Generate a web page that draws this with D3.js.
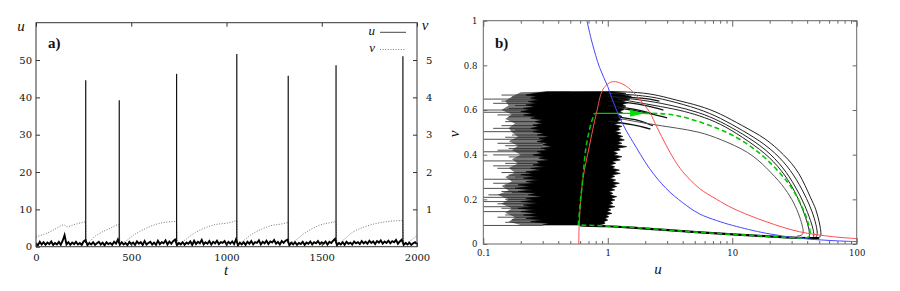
<!DOCTYPE html>
<html>
<head>
<meta charset="utf-8">
<script src="https://cdn.jsdelivr.net/npm/d3@7.9.0/dist/d3.min.js"></script>
<style>
  html, body { margin: 0; padding: 0; background: #fff; }
  svg { display: block; }
</style>
</head>
<body>
<svg id="chart" width="900" height="291"></svg>
<script>
// ---- panel a data ----
const tTicksA = [0, 500, 1000, 1500, 2000];
const uTicksA = [0, 10, 20, 30, 40, 50];
const vTicksA = [1, 2, 3, 4, 5];

// spikes of u (time, peak)
const spikeT = [261, 437, 738, 1054, 1324, 1575, 1926];
const spikeU = [44.6, 39.2, 46.3, 51.6, 45.8, 48.6, 51.0];

// noisy baseline of u, one value every 10 time units (t = 0 .. 2000)
const uNoiseStep = 10;
const uNoise = [
  0.9,0.4,1.3,0.6,1.2,0.5,1.1,0.7,1.4,0.5,
  1.0,0.6,1.3,0.5,1.6,3.1,0.6,1.2,0.5,1.1,
  0.7,1.3,0.6,1.0,0.5,1.4,1.8,0.4,1.0,0.6,
  1.2,0.5,0.9,1.3,0.6,1.1,0.4,1.2,0.7,1.0,
  0.5,1.3,0.8,1.9,0.5,1.2,0.6,1.0,0.4,1.3,
  0.7,1.1,0.5,1.4,0.8,1.2,0.5,1.5,0.6,1.0,
  1.3,0.6,1.1,0.5,1.6,0.7,1.2,0.9,1.7,0.6,
  1.4,0.8,1.5,1.9,0.4,1.0,0.6,1.2,0.5,1.1,
  0.8,1.4,0.5,1.6,0.7,1.3,0.9,1.8,0.6,1.2,
  0.8,1.5,0.6,1.3,0.9,1.6,0.7,1.2,1.0,1.5,
  0.6,1.3,0.8,1.4,0.7,2.0,0.4,1.1,0.6,1.2,
  0.5,1.3,0.8,1.5,0.6,1.2,1.0,1.7,0.6,1.3,
  0.9,1.6,0.7,1.4,1.1,1.8,0.8,1.3,0.6,1.5,
  1.0,1.6,1.9,0.4,1.1,0.6,1.2,0.5,1.0,0.7,
  1.3,0.5,1.1,0.8,1.4,0.6,1.2,0.9,1.5,0.7,
  1.2,0.8,1.4,0.6,1.3,1.0,1.6,2.1,0.4,1.0,
  0.6,1.2,0.5,1.3,0.8,1.1,0.6,1.4,0.9,1.2,
  0.7,1.5,0.9,1.3,0.8,1.6,1.0,1.4,0.7,1.5,
  1.1,1.7,0.8,1.4,1.0,1.6,0.9,1.5,1.2,1.8,
  0.8,1.4,1.9,0.5,1.0,0.6,1.1,0.5,0.9,1.2,
  0.7
];

// slow variable v (right axis)
const vT = [0,40,73,110,143,152,162,200,248,259, 264,318,388,436, 441,528,598,668,737,
            742,843,931,1018,1053, 1058,1141,1228,1316,1323, 1328,1421,1491,1570,1574,
            1580,1666,1753,1841,1925, 1930,2000];
const vV = [0.26,0.33,0.40,0.50,0.58,0.575,0.53,0.59,0.655,0.665, 0.10,0.31,0.49,0.59,
            0.10,0.36,0.54,0.645,0.675, 0.10,0.40,0.58,0.645,0.69, 0.10,0.36,0.556,0.645,0.66,
            0.10,0.40,0.58,0.67,0.675, 0.10,0.40,0.58,0.67,0.70, 0.10,0.30];

// ---- panel b data ----
const uTicksB = [0.1, 1, 10, 100];
const uMinorB = [0.2,0.3,0.4,0.5,0.6,0.7,0.8,0.9, 2,3,4,5,6,7,8,9, 20,30,40,50,60,70,80,90];
const vTicksB = [0, 0.2, 0.4, 0.6, 0.8, 1];

// nullclines [u, v]
const blueCurve = [[0.68,1.0],[0.75,0.9],[0.86,0.79],[1.0,0.705],[1.1,0.64],[1.24,0.57],[1.4,0.51],
  [1.59,0.458],[2.16,0.339],[2.94,0.249],[4.0,0.185],[5.45,0.135],[7.5,0.105],[10.1,0.083],
  [18.7,0.048],[34.6,0.026],[60,0.016],[100,0.0105]];
const redCurve = [[0.585,0.0],[0.59,0.09],[0.63,0.287],[0.71,0.436],[0.81,0.585],[0.91,0.69],
  [1.03,0.722],[1.15,0.727],[1.35,0.713],[1.59,0.682],[1.85,0.64],[2.16,0.592],[2.5,0.52],
  [2.94,0.443],[3.4,0.38],[4.0,0.324],[5.45,0.249],[7.5,0.2],[10.1,0.16],[18.7,0.1],
  [34.6,0.055],[64,0.033],[100,0.024]];

// singular orbit (green)
const greenUp = [[0.58,0.085],[0.6,0.18],[0.63,0.29],[0.67,0.436],[0.735,0.54],[0.78,0.585]];
const greenJump = [[0.78,0.585],[1.97,0.585]];
const greenDown = [[1.97,0.585],[2.94,0.585],[4.0,0.57],[5.45,0.548],[7.5,0.52],[10.1,0.488],
  [14,0.44],[18.7,0.384],[25,0.31],[30.6,0.249],[35.5,0.18],[39,0.13],[41.5,0.08],[42.6,0.045],
  [42,0.027],[34.6,0.026],[20,0.034],[10.1,0.043],[5,0.053],[2.94,0.063],[1.24,0.08],[0.58,0.085]];
const arrowBase = 1.51, arrowTip = 1.97, arrowV = 0.585;

// noisy trajectory: dense core outline [v, u]
const coreLeft = [[0.085,0.30],[0.092,0.34],[0.1,0.24],[0.107,0.3],[0.115,0.22],[0.122,0.28],
  [0.13,0.21],[0.137,0.27],[0.145,0.2],[0.152,0.26],[0.16,0.19],[0.167,0.25],[0.175,0.21],
  [0.182,0.28],[0.19,0.2],[0.197,0.26],[0.205,0.22],[0.212,0.3],[0.22,0.23],[0.227,0.27],
  [0.235,0.19],[0.242,0.25],[0.25,0.18],[0.257,0.24],[0.265,0.19],[0.272,0.26],[0.28,0.22],
  [0.287,0.28],[0.295,0.21],[0.302,0.26],[0.31,0.2],[0.316,0.25],[0.324,0.22],[0.331,0.29],
  [0.339,0.24],[0.346,0.31],[0.354,0.25],[0.361,0.29],[0.369,0.27],[0.376,0.34],[0.384,0.28],
  [0.391,0.31],[0.399,0.25],[0.406,0.3],[0.414,0.27],[0.421,0.33],[0.429,0.29],[0.436,0.36],
  [0.444,0.3],[0.451,0.33],[0.459,0.27],[0.466,0.31],[0.474,0.28],[0.481,0.34],[0.488,0.27],
  [0.495,0.31],[0.503,0.25],[0.51,0.29],[0.518,0.24],[0.525,0.28],[0.533,0.25],[0.54,0.3],
  [0.548,0.26],[0.555,0.3],[0.563,0.24],[0.57,0.27],[0.578,0.21],[0.585,0.25],[0.593,0.2],
  [0.6,0.24],[0.608,0.21],[0.615,0.26],[0.623,0.22],[0.63,0.27],[0.638,0.23],[0.645,0.28],
  [0.653,0.24],[0.66,0.27],[0.667,0.22],[0.675,0.26],[0.682,0.32]];
const coreRight = [[0.683,1.05],[0.675,1.4],[0.67,1.3],[0.662,1.55],[0.655,1.4],[0.647,1.5],[0.64,1.3],
  [0.632,1.45],[0.625,1.3],[0.617,1.4],[0.61,1.22],[0.602,1.35],[0.595,1.25],[0.587,1.32],
  [0.58,1.18],[0.572,1.3],[0.565,1.22],[0.557,1.3],[0.55,1.18],[0.542,1.25],[0.535,1.12],
  [0.527,1.3],[0.52,1.2],[0.512,1.26],[0.505,1.14],[0.497,1.28],[0.49,1.18],[0.482,1.32],
  [0.475,1.22],[0.466,1.36],[0.459,1.2],[0.451,1.3],[0.444,1.18],[0.436,1.42],[0.429,1.2],
  [0.421,1.26],[0.414,1.1],[0.406,1.2],[0.399,1.12],[0.391,1.3],[0.384,1.15],[0.376,1.26],
  [0.369,1.08],[0.361,1.16],[0.354,1.04],[0.346,1.14],[0.339,1.08],[0.331,1.24],[0.324,1.12],
  [0.316,1.26],[0.309,1.08],[0.302,1.14],[0.295,1.04],[0.287,1.16],[0.28,1.08],[0.272,1.24],
  [0.265,1.1],[0.257,1.18],[0.25,1.06],[0.242,1.14],[0.235,1.02],[0.227,1.1],[0.22,1.04],
  [0.212,1.18],[0.205,1.06],[0.197,1.14],[0.19,1.04],[0.182,1.1],[0.175,1.02],[0.167,1.14],
  [0.16,1.0],[0.152,1.06],[0.145,0.98],[0.137,1.08],[0.13,0.97],[0.122,1.02],[0.115,0.95],
  [0.107,1.0],[0.1,0.93],[0.092,0.95],[0.085,0.86]];
// grey halo of thinner excursions behind the core [v, u]
const haloLeft = [[0.085,0.2],[0.1,0.16],[0.12,0.18],[0.14,0.15],[0.16,0.17],[0.18,0.14],
  [0.2,0.16],[0.22,0.13],[0.24,0.16],[0.26,0.14],[0.28,0.17],[0.3,0.15],[0.32,0.18],[0.34,0.16],
  [0.36,0.19],[0.38,0.17],[0.4,0.2],[0.42,0.17],[0.44,0.19],[0.46,0.16],[0.48,0.19],[0.5,0.17],
  [0.52,0.16],[0.54,0.18],[0.56,0.15],[0.58,0.17],[0.6,0.14],[0.62,0.16],[0.64,0.15],[0.66,0.17],
  [0.68,0.2],[0.683,0.35]];
// horizontal excursions to the left [v, uLeft]
const whiskers = [[0.649,0.1],[0.6,0.1],[0.59,0.1],[0.503,0.1],[0.469,0.1],[0.413,0.1],[0.372,0.1],
  [0.29,0.1],[0.249,0.1],[0.209,0.1],[0.19,0.1],[0.167,0.1],[0.145,0.1],[0.083,0.1],
  [0.667,0.14],[0.63,0.12],[0.607,0.16],[0.578,0.13],[0.548,0.15],[0.518,0.12],[0.488,0.17],
  [0.451,0.13],[0.428,0.16],[0.399,0.12],[0.361,0.15],[0.339,0.13],[0.309,0.16],[0.272,0.12],
  [0.235,0.14],[0.22,0.11],[0.18,0.13],[0.13,0.15],[0.108,0.17],
  [0.658,0.17],[0.64,0.14],[0.62,0.18],[0.57,0.16],[0.53,0.14],[0.51,0.18],[0.478,0.15],
  [0.44,0.15],[0.42,0.13],[0.39,0.16],[0.35,0.12],[0.32,0.14],[0.3,0.18],[0.26,0.15],[0.23,0.17],
  [0.2,0.15],[0.16,0.14],[0.12,0.13],[0.097,0.15]];
// short streaks leaving the core to the right
const fingers = [
  [[1.0,0.64],[1.8,0.63],[2.8,0.6]],
  [[1.0,0.62],[1.7,0.605],[2.4,0.58]],
  [[1.2,0.61],[2.0,0.59],[3.0,0.565]],
  [[1.1,0.57],[1.7,0.56],[2.3,0.53]],
  [[1.0,0.55],[1.6,0.535],[2.2,0.515]],
  [[1.0,0.66],[2.0,0.655],[2.6,0.64]]
];
// relaxation orbits [u, v]
const orbits = [
  [[1.0,0.683],[1.8,0.68],[2.6,0.665],[3.5,0.645],[5.45,0.62],[8,0.585],[12,0.53],[18.7,0.473],
   [26,0.4],[34.6,0.324],[43,0.2],[47,0.16],[50.5,0.09],[52,0.045],[51,0.03],[47,0.026]],
  [[1.0,0.675],[2.0,0.665],[3.0,0.645],[5.45,0.605],[8,0.565],[12,0.51],[18.7,0.445],[26,0.37],
   [33,0.29],[40,0.2],[45,0.13],[48,0.07],[48.5,0.035],[46,0.028]],
  [[1.1,0.66],[2.2,0.64],[3.3,0.62],[5.45,0.59],[8,0.55],[12,0.495],[18.7,0.425],[26,0.34],
   [32,0.26],[38,0.18],[43,0.1],[45.5,0.05],[45,0.03]],
  [[1.2,0.65],[2.4,0.62],[3.8,0.6],[5.45,0.575],[8,0.54],[12,0.48],[18.7,0.405],[25,0.33],
   [31,0.25],[36,0.17],[40,0.1],[42,0.05],[41.5,0.03]],
  [[1.3,0.56],[1.8,0.545],[2.45,0.533],[3.5,0.52],[5.45,0.503],[8,0.47],[13.7,0.413],[19,0.34],
   [25.5,0.264],[30.5,0.197],[34,0.14],[36.8,0.08],[37.5,0.048],[36,0.038],[33,0.035]]
];
const lowerBranch = [[50,0.026],[34.6,0.027],[20,0.034],[10.1,0.043],[5,0.053],[2.94,0.063],
  [1.5,0.074],[1.0,0.08],[0.6,0.083]];

const SERIF = '"DejaVu Serif", "Liberation Serif", serif';
const TIMES = '"Liberation Serif", "DejaVu Serif", serif';

const svg = d3.select('#chart');

function styleAxis(g, fs, tickColor) {
  g.select('.domain').remove();
  g.attr('font-family', SERIF).style('font-family', SERIF);
  g.selectAll('.tick line').attr('stroke', tickColor);
  g.selectAll('.tick text').attr('font-size', fs).attr('fill', '#111')
    .attr('font-family', SERIF).style('font-family', SERIF);
}

function label(g, x, y, txt, opts = {}) {
  const t = g.append('text')
    .attr('x', x).attr('y', y)
    .attr('text-anchor', opts.anchor || 'middle')
    .attr('font-size', opts.size || 15)
    .attr('font-style', opts.bold ? 'normal' : 'italic')
    .attr('font-weight', opts.bold ? 'bold' : 'normal')
    .attr('font-family', TIMES).style('font-family', TIMES)
    .attr('fill', '#111')
    .text(txt);
  if (opts.rotate) t.attr('transform', `rotate(-90,${x},${y})`);
  return t;
}

// ================= panel a =================
const xA = d3.scaleLinear().domain([0, 2000]).range([36, 417]);
const yA = d3.scaleLinear().domain([0, 60]).range([246.7, 22.7]);
const yA2 = d3.scaleLinear().domain([0, 6]).range([246.7, 22.7]);

svg.append('clipPath').attr('id', 'clipA').append('rect')
  .attr('x', 36).attr('y', 22.7).attr('width', 381).attr('height', 224);

const gA = svg.append('g');

// v dotted
gA.append('path')
  .attr('clip-path', 'url(#clipA)')
  .attr('d', d3.line().x((d, i) => xA(vT[i])).y(d => yA2(d)).curve(d3.curveMonotoneX)(vV))
  .attr('fill', 'none').attr('stroke', '#555').attr('stroke-width', 0.8)
  .attr('stroke-dasharray', '1,1.6');

// u: noisy baseline plus spikes
gA.append('path')
  .attr('clip-path', 'url(#clipA)')
  .attr('d', d3.line().x((d, i) => xA(i * uNoiseStep)).y(d => yA(d))(uNoise))
  .attr('fill', 'none').attr('stroke', '#000').attr('stroke-width', 1.9);
gA.selectAll('.spike').data(spikeT).join('line').attr('class', 'spike')
  .attr('x1', d => xA(d)).attr('x2', d => xA(d))
  .attr('y1', yA(1)).attr('y2', (d, i) => yA(spikeU[i]))
  .attr('stroke', '#111').attr('stroke-width', 1.2);

gA.append('g').attr('transform', 'translate(0,246.7)')
  .call(d3.axisBottom(xA).tickValues(tTicksA).tickSize(-4).tickPadding(7).tickFormat(d3.format('d')))
  .call(g => styleAxis(g, 10, '#333'));
gA.append('g').attr('transform', 'translate(0,22.7)')
  .call(d3.axisTop(xA).tickValues(tTicksA).tickSize(-4).tickFormat(''))
  .call(g => styleAxis(g, 10, '#333'));
gA.append('g').attr('transform', 'translate(36,0)')
  .call(d3.axisLeft(yA).tickValues(uTicksA).tickSize(-4).tickPadding(4).tickFormat(d3.format('d')))
  .call(g => styleAxis(g, 10, '#333'));
gA.append('g').attr('transform', 'translate(417,0)')
  .call(d3.axisRight(yA2).tickValues(vTicksA).tickSize(-4).tickPadding(9).tickFormat(d3.format('d')))
  .call(g => styleAxis(g, 10, '#333'));

gA.append('rect').attr('x', 36).attr('y', 22.7).attr('width', 381).attr('height', 224)
  .attr('fill', 'none').attr('stroke', '#333').attr('stroke-width', 1);

label(gA, 48, 48, 'a)', { anchor: 'start', bold: true, size: 15 });
label(gA, 21, 31, 'u');
label(gA, 425, 30, 'v');
label(gA, 226, 275, 't');

// legend
label(gA, 375, 35, 'u', { anchor: 'end', size: 13 });
gA.append('line').attr('x1', 380).attr('x2', 406).attr('y1', 32.3).attr('y2', 32.3)
  .attr('stroke', '#333').attr('stroke-width', 0.9);
label(gA, 375, 52, 'v', { anchor: 'end', size: 13 });
gA.append('line').attr('x1', 380).attr('x2', 406).attr('y1', 49.5).attr('y2', 49.5)
  .attr('stroke', '#555').attr('stroke-width', 0.8).attr('stroke-dasharray', '1,1.6');

// ================= panel b =================
const xB = d3.scaleLog().domain([0.1, 100]).range([483.3, 856.7]);
const yB = d3.scaleLinear().domain([0, 1]).range([244, 20.7]);

svg.append('clipPath').attr('id', 'clipB').append('rect')
  .attr('x', 483.3).attr('y', 20.7).attr('width', 373.4).attr('height', 223.3);

const gB = svg.append('g').attr('clip-path', 'url(#clipB)');
const lineUV = d3.line().x(d => xB(d[0])).y(d => yB(d[1]));
const lineVU = d3.line().x(d => xB(d[1])).y(d => yB(d[0]));

// grey halo, whiskers, core
gB.append('path')
  .attr('d', lineVU(haloLeft.concat([[0.683, 0.5], [0.085, 0.5]])) + 'Z')
  .attr('fill', '#777');
gB.selectAll('.whisker').data(whiskers).join('line').attr('class', 'whisker')
  .attr('x1', d => xB(d[1])).attr('x2', xB(0.3))
  .attr('y1', d => yB(d[0])).attr('y2', d => yB(d[0]))
  .attr('stroke', '#222').attr('stroke-width', 0.8);
gB.append('path')
  .attr('d', lineVU(coreLeft.concat(coreRight)) + 'Z')
  .attr('fill', '#000').attr('stroke', '#000').attr('stroke-width', 0.6);

// fingers and orbits
const basis = d3.line().x(d => xB(d[0])).y(d => yB(d[1])).curve(d3.curveBasis);
gB.selectAll('.finger').data(fingers).join('path').attr('class', 'finger')
  .attr('d', basis)
  .attr('fill', 'none').attr('stroke', '#111').attr('stroke-width', 1.3);
gB.selectAll('.orbit').data(orbits).join('path').attr('class', 'orbit')
  .attr('d', basis)
  .attr('fill', 'none').attr('stroke', (d, i) => i === 4 ? '#555' : '#222').attr('stroke-width', 1);
gB.append('path').attr('d', basis(lowerBranch))
  .attr('fill', 'none').attr('stroke', '#000').attr('stroke-width', 2.2);

// nullclines
const smooth = d3.line().x(d => xB(d[0])).y(d => yB(d[1])).curve(d3.curveCatmullRom);
gB.append('path').attr('d', smooth(redCurve))
  .attr('fill', 'none').attr('stroke', '#ff4d4d').attr('stroke-width', 1);
gB.append('path').attr('d', smooth(blueCurve))
  .attr('fill', 'none').attr('stroke', '#4646ff').attr('stroke-width', 1);

// green singular orbit
gB.append('path').attr('d', smooth(greenUp))
  .attr('fill', 'none').attr('stroke', '#00c800').attr('stroke-width', 1.6).attr('stroke-dasharray', '5,3');
gB.append('path').attr('d', lineUV(greenJump))
  .attr('fill', 'none').attr('stroke', '#00c800').attr('stroke-width', 1.3);
gB.append('path').attr('d', basis(greenDown))
  .attr('fill', 'none').attr('stroke', '#00c800').attr('stroke-width', 1.6).attr('stroke-dasharray', '5,3');
gB.append('path')
  .attr('d', `M${xB(arrowTip)},${yB(arrowV)}L${xB(arrowBase)},${yB(arrowV) - 3.5}L${xB(arrowBase)},${yB(arrowV) + 3.5}Z`)
  .attr('fill', '#00e000');

// axes b
const gBa = svg.append('g');
gBa.append('g').attr('transform', 'translate(0,244)')
  .call(d3.axisBottom(xB).tickValues(uTicksB).tickSize(-6).tickPadding(6).tickFormat(d => String(d)))
  .call(g => styleAxis(g, 8.5, '#666'));
gBa.append('g').attr('transform', 'translate(0,244)')
  .call(d3.axisBottom(xB).tickValues(uMinorB).tickSize(-3).tickFormat(''))
  .call(g => styleAxis(g, 8.5, '#666'));
gBa.append('g').attr('transform', 'translate(0,20.7)')
  .call(d3.axisTop(xB).tickValues(uTicksB).tickSize(-6).tickFormat(''))
  .call(g => styleAxis(g, 8.5, '#666'));
gBa.append('g').attr('transform', 'translate(0,20.7)')
  .call(d3.axisTop(xB).tickValues(uMinorB).tickSize(-3).tickFormat(''))
  .call(g => styleAxis(g, 8.5, '#666'));
gBa.append('g').attr('transform', 'translate(483.3,0)')
  .call(d3.axisLeft(yB).tickValues(vTicksB).tickSize(-4).tickPadding(6).tickFormat(d => String(d)))
  .call(g => styleAxis(g, 8.5, '#666'));
gBa.append('g').attr('transform', 'translate(856.7,0)')
  .call(d3.axisRight(yB).tickValues(vTicksB).tickSize(-4).tickFormat(''))
  .call(g => styleAxis(g, 8.5, '#666'));

gBa.append('rect').attr('x', 483.3).attr('y', 20.7).attr('width', 373.4).attr('height', 223.3)
  .attr('fill', 'none').attr('stroke', '#666').attr('stroke-width', 1);

label(gBa, 495, 48, 'b)', { anchor: 'start', bold: true, size: 15 });
label(gBa, 658, 274, 'u');
label(gBa, 459, 134, 'v', { rotate: true });
</script>
</body>
</html>
